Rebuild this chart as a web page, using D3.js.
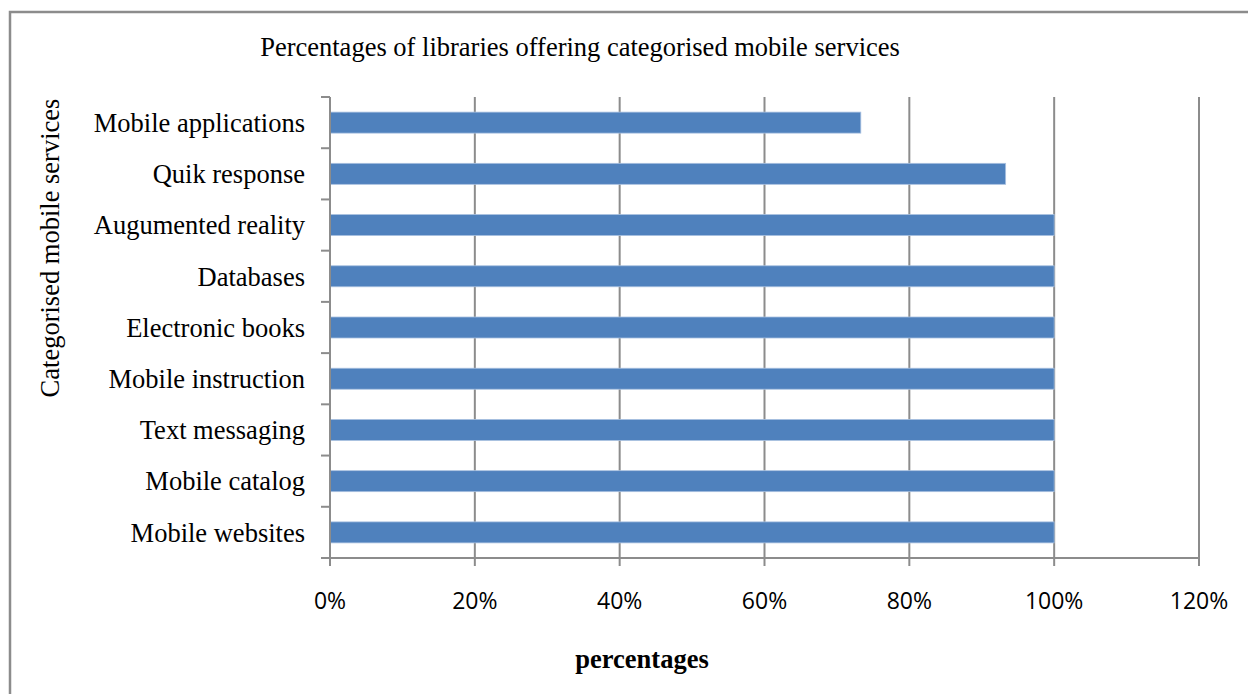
<!DOCTYPE html>
<html>
<head>
<meta charset="utf-8">
<script src="https://cdn.jsdelivr.net/npm/d3@7"></script>
<style>
  body { margin: 0; background: #fff; }
  svg { display: block; }
</style>
</head>
<body>
<div id="chart-area"></div>
<script>
/***** Data *****/
const categories = [
  "Mobile applications", "Quik response", "Augumented reality", "Databases",
  "Electronic books", "Mobile instruction", "Text messaging",
  "Mobile catalog", "Mobile websites"
];
const values = [73.3, 93.3, 100, 100, 100, 100, 100, 100, 100];
const xTicks = [0, 20, 40, 60, 80, 100, 120];

const W = 1248, H = 694;
const plot = { left: 330, right: 1199, top: 97, bottom: 558 };
const serif = "Liberation Serif, Times New Roman, serif";

const svg = d3.select("#chart-area").append("svg")
  .attr("width", W).attr("height", H);

// frame (top + left only visible)
svg.append("path")
  .attr("d", `M10,${H} V12 H${W}`)
  .attr("fill", "none").attr("stroke", "#8c8c8c").attr("stroke-width", 2.5);

const x = d3.scaleLinear().domain([0, 120]).range([plot.left, plot.right]);
const y = d3.scaleBand().domain(categories).range([plot.top, plot.bottom]).paddingInner(0.59).paddingOuter(0.295);
const yEdges = d3.scaleLinear().domain([0, categories.length]).range([plot.top, plot.bottom]);

// gridlines
svg.append("g").selectAll("line").data(xTicks.slice(1)).join("line")
  .attr("x1", d => x(d)).attr("x2", d => x(d))
  .attr("y1", plot.top).attr("y2", plot.bottom + 8)
  .attr("stroke", "#8c8c8c").attr("stroke-width", 2);

// bars
svg.append("g").selectAll("rect").data(categories).join("rect")
  .attr("x", x(0))
  .attr("y", d => y(d))
  .attr("width", (d, i) => x(values[i]) - x(0))
  .attr("height", y.bandwidth())
  .attr("fill", "#4f81bd")
  .attr("stroke", "#a9c1e0").attr("stroke-width", 0.8);

// x axis line + ticks
svg.append("line")
  .attr("x1", plot.left).attr("x2", plot.right)
  .attr("y1", plot.bottom).attr("y2", plot.bottom)
  .attr("stroke", "#8c8c8c").attr("stroke-width", 2);
svg.append("line")
  .attr("x1", x(0)).attr("x2", x(0))
  .attr("y1", plot.bottom).attr("y2", plot.bottom + 8)
  .attr("stroke", "#8c8c8c").attr("stroke-width", 2);

// y axis line + ticks at band edges
svg.append("line")
  .attr("x1", plot.left).attr("x2", plot.left)
  .attr("y1", plot.top).attr("y2", plot.bottom)
  .attr("stroke", "#8c8c8c").attr("stroke-width", 2);
svg.append("g").selectAll("line").data(d3.range(categories.length + 1)).join("line")
  .attr("x1", plot.left - 9).attr("x2", plot.left)
  .attr("y1", d => yEdges(d)).attr("y2", d => yEdges(d))
  .attr("stroke", "#8c8c8c").attr("stroke-width", 2);

// category labels
svg.append("g").selectAll("text").data(categories).join("text")
  .attr("x", 305)
  .attr("y", d => y(d) + y.bandwidth() / 2)
  .attr("dy", "0.35em")
  .attr("text-anchor", "end")
  .attr("font-family", serif)
  .attr("font-size", 26.5)
  .attr("fill", "#000")
  .text(d => d);

// x tick labels
svg.append("g").selectAll("text").data(xTicks).join("text")
  .attr("x", d => x(d))
  .attr("y", 601)
  .attr("dy", "0.35em")
  .attr("text-anchor", "middle")
  .attr("font-family", "Open Sans, sans-serif")
  .attr("font-size", 23)
  .attr("fill", "#000")
  .text(d => d + "%");

// title
svg.append("text")
  .attr("x", 580).attr("y", 56)
  .attr("text-anchor", "middle")
  .attr("font-family", serif)
  .attr("font-size", 26.5)
  .text("Percentages of libraries offering categorised mobile services");

// x axis title
svg.append("text")
  .attr("x", 642).attr("y", 668)
  .attr("text-anchor", "middle")
  .attr("font-family", serif)
  .attr("font-size", 26.5).attr("font-weight", "bold")
  .text("percentages");

// y axis title
svg.append("text")
  .attr("transform", "translate(59,248) rotate(-90)")
  .attr("text-anchor", "middle")
  .attr("font-family", serif)
  .attr("font-size", 26.5)
  .text("Categorised mobile services");
</script>
</body>
</html>
